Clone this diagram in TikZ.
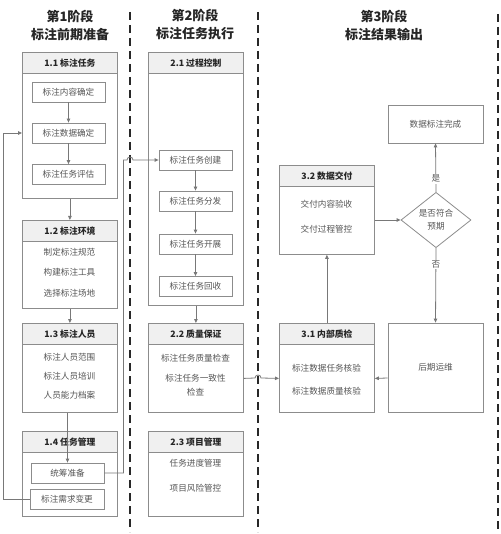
\documentclass[tikz,border=0pt]{standalone}
\usepackage{fontspec}
\setmainfont{Noto Sans CJK SC}
\usepackage{tikz}
\usepackage{xcolor}
\usetikzlibrary{shapes.geometric,arrows.meta,positioning,calc}
\definecolor{boxgray}{RGB}{140,140,140}
\definecolor{headgray}{RGB}{240,240,240}
\definecolor{headtext}{RGB}{38,38,38}
\definecolor{itemtext}{RGB}{85,85,85}
\definecolor{linegray}{RGB}{120,120,120}
\definecolor{divblack}{RGB}{40,40,40}

\tikzset{
    frame/.style={draw=boxgray, line width=0.8pt, minimum width=95pt, inner sep=0pt, anchor=north west},
    head/.style={draw=boxgray, fill=headgray, line width=0.8pt, minimum width=95pt, minimum height=21pt,
        inner sep=0pt, anchor=north, text=headtext, font=\bfseries\fontsize{8.8}{10}\selectfont},
    itembox/.style={draw=boxgray, line width=0.8pt, minimum width=73pt, minimum height=20pt,
        inner sep=0pt, text=itemtext, font=\fontsize{8.6}{10}\selectfont},
    item/.style={text=itemtext, align=center, inner sep=0pt, font=\fontsize{8.6}{14}\selectfont},
    stagetitle/.style={align=center, text=headtext, font=\bfseries\fontsize{13}{18}\selectfont},
    conn/.style={draw=linegray, line width=0.8pt, -{Triangle[length=4pt,width=3.5pt]}},
    divider/.style={draw=divblack, line width=2pt, dash pattern=on 8pt off 5pt}
}

\begin{document}
\begin{tikzpicture}[x=1pt,y=-1pt]
    \useasboundingbox (0,0) rectangle (500,534);

    % stage dividers
    \draw[divider] (130,12) -- (130,532);
    \draw[divider] (258,12) -- (258,532);
    \draw[divider] (498,14) -- (498,534);

    % stage titles
    \node[stagetitle] (s1) at (70,25) {第1阶段\\标注前期准备};
    \node[stagetitle] (s2) at (195,25) {第2阶段\\标注任务执行};
    \node[stagetitle] (s3) at (384,25) {第3阶段\\标注结果输出};

    % 1.1 标注任务
    \node[frame, minimum height=146pt] (b11) at (22,52) {};
    \node[head] (b11h) at (b11.north) {1.1 标注任务};
    \node[itembox] (t11a) at (68.5,92) {标注内容确定};
    \node[itembox] (t11b) at (68.5,133) {标注数据确定};
    \node[itembox] (t11c) at (68.5,174.5) {标注任务评估};
    \draw[conn] (t11a) -- (t11b);
    \draw[conn] (t11b) -- (t11c);

    % 1.2 标注环境
    \node[frame, minimum height=88pt] (b12) at (22,220) {};
    \node[head] (b12h) at (b12.north) {1.2 标注环境};
    \node[item] (t12a) at (69.5,252) {制定标注规范};
    \node[item] (t12b) at (69.5,272.5) {构建标注工具};
    \node[item] (t12c) at (69.5,293) {选择标注场地};

    % 1.3 标注人员
    \node[frame, minimum height=89pt] (b13) at (22,323) {};
    \node[head] (b13h) at (b13.north) {1.3 标注人员};
    \node[item] (t13a) at (69.5,357) {标注人员范围};
    \node[item] (t13b) at (69.5,376) {标注人员培训};
    \node[item] (t13c) at (69.5,395) {人员能力档案};

    % 1.4 任务管理
    \node[frame, minimum height=85pt] (b14) at (22,431) {};
    \node[head] (b14h) at (b14.north) {1.4 任务管理};
    \node[itembox] (t14a) at (67.5,473) {统筹准备};
    \node[itembox, minimum width=74pt] (t14b) at (67,499.5) {标注需求变更};

    \draw[conn] (b11) -- (b12);
    \draw[conn] (b12) -- (b13);
    \draw[conn] (b13.south -| t14a.north) -- (t14a.north);
    \draw[conn] (t14b.west) -- ++(-26,0) |- (b11.west |- t11b.center);

    % 2.1 过程控制
    \node[frame, minimum height=253pt] (b21) at (148,52) {};
    \node[head] (b21h) at (b21.north) {2.1 过程控制};
    \node[itembox] (t21a) at (195.5,160) {标注任务创建};
    \node[itembox] (t21b) at (195.5,201) {标注任务分发};
    \node[itembox] (t21c) at (195.5,244) {标注任务开展};
    \node[itembox] (t21d) at (195.5,286.5) {标注任务回收};
    \draw[conn] (t21a) -- (t21b);
    \draw[conn] (t21b) -- (t21c);
    \draw[conn] (t21c) -- (t21d);
    \draw[conn] (t14a.east) -- ++(19,0) |- (127,160)
        arc[start angle=180, end angle=360, radius=3] -- (t21a.west);

    % 2.2 质量保证
    \node[frame, minimum height=89pt] (b22) at (148,323) {};
    \node[head] (b22h) at (b22.north) {2.2 质量保证};
    \node[item] (t22a) at (195.5,358) {标注任务质量检查};
    \node[item] (t22b) at (195.5,385) {标注任务一致性\\检查};
    \draw[conn] (b21) -- (b22);

    % 2.3 项目管理
    \node[frame, minimum height=85pt] (b23) at (148,431) {};
    \node[head] (b23h) at (b23.north) {2.3 项目管理};
    \node[item] (t23a) at (195.5,463) {任务进度管理};
    \node[item] (t23b) at (195.5,488) {项目风险管控};

    % 3.1 内部质检
    \node[frame, minimum height=89pt] (b31) at (279,323) {};
    \node[head] (b31h) at (b31.north) {3.1 内部质检};
    \node[item] (t31a) at (326.5,368) {标注数据任务核验};
    \node[item] (t31b) at (326.5,391) {标注数据质量核验};
    \draw[conn] ([yshift=-10.5pt]b22.east) -- (255,378)
        arc[start angle=180, end angle=360, radius=3] -- ([yshift=-10.5pt]b31.west);

    % 3.2 数据交付
    \node[frame, minimum height=89pt] (b32) at (279,165) {};
    \node[head] (b32h) at (b32.north) {3.2 数据交付};
    \node[item] (t32a) at (326.5,204) {交付内容验收};
    \node[item] (t32b) at (326.5,229) {交付过程管控};
    \draw[conn] (b31) -- (b32);

    % check and output
    \node[draw=boxgray, line width=0.8pt, diamond, minimum width=70pt, minimum height=50pt,
        inner sep=0pt, align=center, text=itemtext, font=\fontsize{8.6}{13}\selectfont] (chk) at (436,220) {是否符合\\预期};
    \node[itembox, minimum width=95pt, minimum height=38pt] (done) at (435.5,124) {数据标注完成};
    \node[itembox, minimum width=95pt, minimum height=89pt] (ops) at (435.5,367.5) {后期运维};

    \draw[conn] (b32.east |- chk.west) -- (chk.west);
    \draw[conn] (chk.north) -- node[pos=0.27, fill=white, inner sep=1pt, text=itemtext,
        font=\fontsize{8.6}{10}\selectfont] {是} (done.south);
    \draw[conn] (chk.south) -- node[pos=0.22, fill=white, inner sep=1pt, text=itemtext,
        font=\fontsize{8.6}{10}\selectfont] {否} (ops.north);
    \draw[conn] ([yshift=-10.5pt]ops.west) -- ([yshift=-10.5pt]b31.east);

\end{tikzpicture}
\end{document}
